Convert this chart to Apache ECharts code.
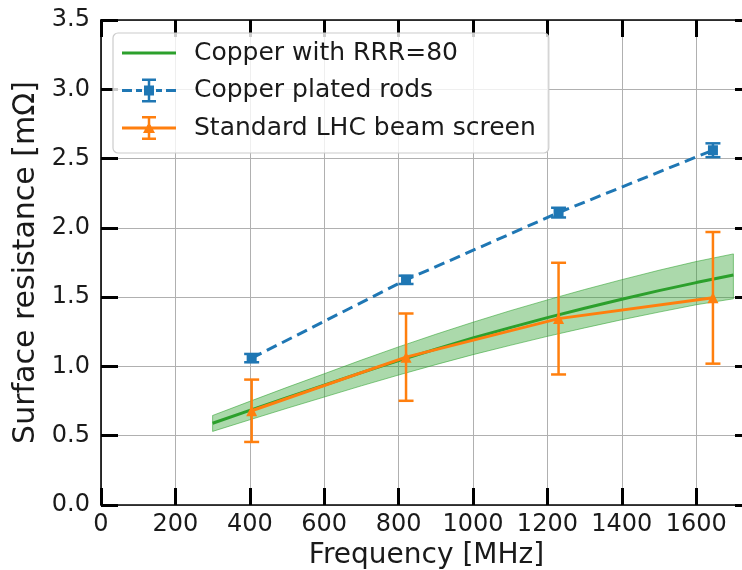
<!DOCTYPE html>
<html>
<head>
<meta charset="utf-8">
<script src="https://cdn.jsdelivr.net/npm/echarts@6/dist/echarts.min.js"></script>
<style>
html,body{margin:0;padding:0;background:#fff;}
#chart{width:742px;height:570px;}
</style>
</head>
<body>
<div id="chart"></div>
<script>
// ---- data ----
const xTicks = [0, 200, 400, 600, 800, 1000, 1200, 1400, 1600];
const yTicks = [0.0, 0.5, 1.0, 1.5, 2.0, 2.5, 3.0, 3.5];

const greenFreq  = [300, 400, 500, 600, 700, 800, 900, 1000, 1100, 1200, 1300, 1400, 1500, 1600, 1700];
const greenVal   = [0.59, 0.683, 0.775, 0.865, 0.955, 1.042, 1.125, 1.205, 1.28, 1.352, 1.42, 1.485, 1.547, 1.605, 1.66];
const greenUpper = [0.646, 0.748, 0.849, 0.947, 1.046, 1.141, 1.232, 1.319, 1.402, 1.48, 1.555, 1.626, 1.694, 1.757, 1.812];
const greenLower = [0.531, 0.615, 0.698, 0.779, 0.86, 0.938, 1.013, 1.085, 1.152, 1.217, 1.278, 1.337, 1.392, 1.445, 1.488];

const rodFreq = [405, 820, 1230, 1645];
const rodVal  = [1.06, 1.625, 2.11, 2.56];
const rodErr  = [0.03, 0.03, 0.035, 0.05];

const lhcFreq = [405, 820, 1230, 1645];
const lhcVal  = [0.68, 1.067, 1.345, 1.495];
const lhcErr  = [0.225, 0.315, 0.403, 0.475];

const names = ['Copper with RRR=80', 'Copper plated rods', 'Standard LHC beam screen'];

// ---- build ----
const GREEN = '#2ca02c', BLUE = '#1f77b4', ORANGE = '#ff7f0e';
const FONT = 'DejaVu Sans';
const zip = (a, b) => a.map((v, i) => [v, b[i]]);
const zip3 = (a, b, c) => a.map((v, i) => [v, b[i], c[i]]);

function errRender(color) {
  return function (params, api) {
    const x = api.value(0), y = api.value(1), e = api.value(2);
    const t = api.coord([x, y + e]), b = api.coord([x, y - e]);
    const hw = 7.5;
    const st = { stroke: color, lineWidth: 2.5, fill: null };
    return {
      type: 'group',
      children: [
        { type: 'line', shape: { x1: t[0], y1: t[1], x2: b[0], y2: b[1] }, style: st },
        { type: 'line', shape: { x1: t[0] - hw, y1: t[1], x2: t[0] + hw, y2: t[1] }, style: st },
        { type: 'line', shape: { x1: b[0] - hw, y1: b[1], x2: b[0] + hw, y2: b[1] }, style: st }
      ]
    };
  };
}

function bandRender(params, api) {
  if (params.dataIndexInside !== 0) return null;
  const n = params.dataInsideLength;
  const up = [], lo = [];
  for (let j = 0; j < n; j++) {
    const f = api.value(0, j);
    lo.push(api.coord([f, api.value(1, j)]));
    up.push(api.coord([f, api.value(2, j)]));
  }
  return {
    type: 'polygon',
    shape: { points: up.concat(lo.slice().reverse()) },
    style: { fill: 'rgba(44,160,44,0.4)', stroke: 'rgba(44,160,44,0.55)', lineWidth: 1 }
  };
}

const iconGreen = 'path://M0 10.5h54v3h-54Z';
const iconBlue = 'path://M0 10.5h10v3h-10Z M14 10.5h6v3h-6Z M34 10.5h6v3h-6Z M44 10.5h10v3h-10Z ' +
  'M25.75 0h2.5v24h-2.5Z M20 0h14v2.5h-14Z M20 21.5h14v2.5h-14Z M22 7h10v10h-10Z';
const iconOrange = 'path://M0 10.5h54v3h-54Z M25.75 0h2.5v24h-2.5Z M20 0h14v2.5h-14Z M20 21.5h14v2.5h-14Z M27 6L33 17L21 17Z';

const tickStyle = { show: true, inside: true, length: 17, lineStyle: { color: '#000', width: 3 } };
const axisLineStyle = { show: true, onZero: false, lineStyle: { color: '#000', width: 1.6 } };

const option = {
  animation: false,
  backgroundColor: '#fff',
  textStyle: { fontFamily: FONT },
  grid: { left: 101, right: -10, top: 20, bottom: 65, containLabel: false, outerBoundsMode: 'none' },
  legend: {
    orient: 'vertical',
    left: 113, top: 33,
    padding: [7, 13, 12, 9],
    itemWidth: 54, itemHeight: 24, itemGap: 11.5,
    backgroundColor: 'rgba(255,255,255,0.8)',
    borderColor: '#cccccc', borderWidth: 1.2, borderRadius: 5,
    selectedMode: false,
    symbolKeepAspect: true,
    textStyle: { fontFamily: FONT, fontSize: 25, color: '#1a1a1a', lineHeight: 26, padding: [0, 0, 0, 13] },
    data: [
      { name: names[0], icon: iconGreen, itemStyle: { color: GREEN, borderWidth: 0 } },
      { name: names[1], icon: iconBlue, itemStyle: { color: BLUE, borderWidth: 0 } },
      { name: names[2], icon: iconOrange, itemStyle: { color: ORANGE, borderWidth: 0 } }
    ]
  },
  xAxis: [
    {
      type: 'value', min: 0, max: 1750, interval: 200, position: 'bottom',
      name: 'Frequency [MHz]', nameLocation: 'middle', nameGap: 33,
      nameTextStyle: { fontFamily: FONT, fontSize: 28, color: '#1a1a1a' },
      axisLine: axisLineStyle, axisTick: tickStyle,
      axisLabel: {
        show: true, margin: 8, fontFamily: FONT, fontSize: 24, color: '#1a1a1a',
        formatter: v => (xTicks.indexOf(v) >= 0 ? String(v) : '')
      },
      splitLine: { show: true, lineStyle: { color: '#b0b0b0', width: 1 } }
    },
    {
      type: 'value', min: 0, max: 1750, interval: 200, position: 'top',
      axisLine: axisLineStyle, axisTick: tickStyle,
      axisLabel: { show: false }, splitLine: { show: false }
    }
  ],
  yAxis: [
    {
      type: 'value', min: 0, max: 3.5, interval: 0.5, position: 'left',
      name: 'Surface resistance [mΩ]', nameLocation: 'middle', nameGap: 57,
      nameTextStyle: { fontFamily: FONT, fontSize: 30, color: '#1a1a1a' },
      axisLine: axisLineStyle, axisTick: tickStyle,
      axisLabel: {
        show: true, margin: 11, fontFamily: FONT, fontSize: 24, color: '#1a1a1a',
        formatter: v => (yTicks.some(t => Math.abs(t - v) < 1e-9) ? v.toFixed(1) : '')
      },
      splitLine: { show: true, lineStyle: { color: '#b0b0b0', width: 1 } }
    },
    {
      type: 'value', min: 0, max: 3.5, interval: 0.5, position: 'right',
      axisLine: axisLineStyle, axisTick: tickStyle,
      axisLabel: { show: false }, splitLine: { show: false }
    }
  ],
  series: [
    {
      name: 'band', type: 'custom', z: 1, silent: true,
      renderItem: bandRender,
      encode: { x: 0, y: [1, 2] },
      data: zip3(greenFreq, greenLower, greenUpper)
    },
    {
      name: names[0], type: 'line', z: 3,
      data: zip(greenFreq, greenVal), symbol: 'none',
      lineStyle: { color: GREEN, width: 3 }, itemStyle: { color: GREEN }
    },
    {
      name: 'rodErr', type: 'custom', z: 4,
      renderItem: errRender(BLUE),
      encode: { x: 0, y: 1 },
      data: zip3(rodFreq, rodVal, rodErr), silent: true
    },
    {
      name: names[1], type: 'line', z: 5,
      data: zip(rodFreq, rodVal), symbol: 'rect', symbolSize: 10,
      lineStyle: { color: BLUE, width: 3, type: [11, 6] },
      itemStyle: { color: BLUE }
    },
    {
      name: 'lhcErr', type: 'custom', z: 6,
      renderItem: errRender(ORANGE),
      encode: { x: 0, y: 1 },
      data: zip3(lhcFreq, lhcVal, lhcErr), silent: true
    },
    {
      name: names[2], type: 'line', z: 7,
      data: zip(lhcFreq, lhcVal), symbol: 'triangle', symbolSize: 11,
      lineStyle: { color: ORANGE, width: 3 },
      itemStyle: { color: ORANGE }
    }
  ]
};

const chart = echarts.init(document.getElementById('chart'), null, { renderer: 'canvas' });
chart.setOption(option);
</script>
</body>
</html>
